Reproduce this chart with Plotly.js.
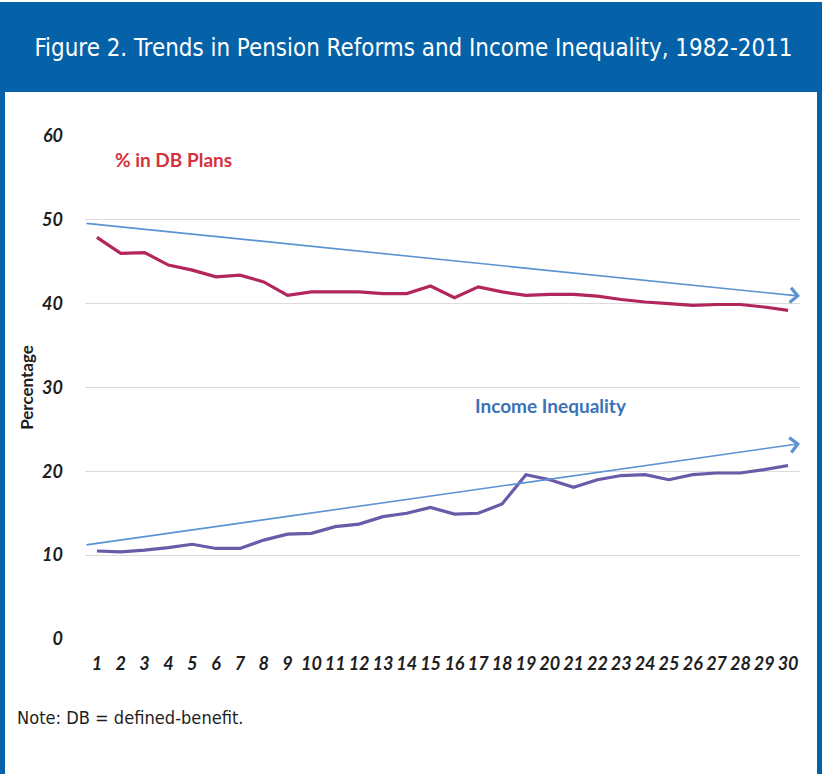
<!DOCTYPE html>
<html>
<head>
<meta charset="utf-8">
<script src="https://cdn.plot.ly/plotly-3.0.1.min.js"></script>
<style>
  html, body { margin: 0; padding: 0; background: #ffffff; }
  #frame { position: absolute; left: 0; top: 0; width: 822px; height: 774px; background: #ffffff; overflow: hidden; }
  #leftbar { position: absolute; left: 0; top: 2px; width: 5px; height: 772px; background: #0562a8; }
  #rightbar { position: absolute; left: 817px; top: 2px; width: 5px; height: 772px; background: #0562a8; }
  #header { position: absolute; left: 0; top: 2px; width: 822px; height: 90px; background: #0562a8; }
  #chart { position: absolute; left: 0; top: 0; width: 822px; height: 774px; }
  #chart .gtitle, #chart .annotation-text { font-stretch: condensed; }
</style>
</head>
<body>
<div id="frame">
  <div id="leftbar"></div>
  <div id="rightbar"></div>
  <div id="header"></div>
  <div id="chart"></div>
</div>
<script>
// ---- data ----
const periods = [1,2,3,4,5,6,7,8,9,10,11,12,13,14,15,16,17,18,19,20,21,22,23,24,25,26,27,28,29,30];
const dbPlans = [47.9,46.0,46.1,44.6,44.0,43.2,43.4,42.6,41.0,41.4,41.4,41.4,41.2,41.2,42.1,40.7,42.0,41.4,41.0,41.1,41.1,40.9,40.5,40.2,40.0,39.8,39.9,39.9,39.6,39.2];
const incomeInequality = [10.5,10.4,10.6,10.9,11.3,10.8,10.8,11.8,12.5,12.6,13.4,13.7,14.6,15.0,15.7,14.9,15.0,16.1,19.6,19.0,18.1,19.0,19.5,19.6,19.0,19.6,19.8,19.8,20.2,20.7];
const trendX = [0.5, 30.5];
const dbTrend = [49.6, 40.9];
const incomeTrend = [11.2, 23.3];
const yTicks = [0, 10, 20, 30, 40, 50, 60];

const titleText = 'Figure 2. Trends in Pension Reforms and Income Inequality, 1982-2011';
const noteText = 'Note: DB = defined-benefit.';

const tickFont = {family: 'Lato, "DejaVu Sans", sans-serif', size: 18, color: '#1e1e1e', weight: 700, style: 'italic'};
const condensedFamily = '"Liberation Sans Narrow", "DejaVu Sans Condensed", "DejaVu Sans", sans-serif';

const traces = [
  {x: periods, y: dbPlans, type: 'scatter', mode: 'lines', name: '% in DB Plans',
   line: {color: '#b2265c', width: 3.2}, hoverinfo: 'x+y'},
  {x: periods, y: incomeInequality, type: 'scatter', mode: 'lines', name: 'Income Inequality',
   line: {color: '#6b5aa8', width: 3.2}, hoverinfo: 'x+y'}
];

const trendArrow = (ys) => ({
  x: trendX[1], y: ys[1], ax: trendX[0], ay: ys[0],
  xref: 'x', yref: 'y', axref: 'x', ayref: 'y',
  showarrow: true, arrowhead: 4, arrowsize: 1.8, arrowwidth: 1.6,
  arrowcolor: '#5b93d3', text: ''
});

const layout = {
  width: 822, height: 774,
  paper_bgcolor: 'rgba(0,0,0,0)', plot_bgcolor: 'rgba(0,0,0,0)',
  margin: {l: 85, r: 22, t: 136, b: 135},
  showlegend: false,
  title: {
    text: titleText,
    font: {family: condensedFamily, size: 29, color: '#ffffff'},
    xref: 'container', yref: 'container', x: 0.503, y: 1 - 48 / 774, xanchor: 'center', yanchor: 'middle'
  },
  xaxis: {
    range: [0.5, 30.5], tickvals: periods, ticktext: periods.map(String),
    showgrid: false, zeroline: false, showline: false, ticks: '',
    tickfont: tickFont, ticklabelstandoff: 12, fixedrange: true
  },
  yaxis: {
    range: [0, 60], tickvals: yTicks, showgrid: true, gridcolor: '#dcdcdc', gridwidth: 1.2,
    zeroline: false, showline: false, ticks: '',
    tickfont: tickFont, ticklabelstandoff: 21, fixedrange: true,
    title: {text: 'Percentage', standoff: 4,
            font: {family: 'Lato, "DejaVu Sans", sans-serif', size: 17, color: '#1e1e1e', weight: 700}}
  },
  annotations: [
    trendArrow(dbTrend),
    trendArrow(incomeTrend),
    {text: '% in DB Plans', x: 0, y: 1, xref: 'paper', yref: 'paper', xshift: 28, yshift: -23,
     xanchor: 'left', yanchor: 'middle', showarrow: false,
     font: {family: 'Lato, "DejaVu Sans", sans-serif', size: 19, color: '#d6323c', weight: 700}},
    {text: 'Income Inequality', x: 0, y: 1, xref: 'paper', yref: 'paper', xshift: 388, yshift: -269,
     xanchor: 'left', yanchor: 'middle', showarrow: false,
     font: {family: 'Lato, "DejaVu Sans", sans-serif', size: 19, color: '#3b72b6', weight: 700}},
    {text: noteText, x: 0, y: 0, xref: 'paper', yref: 'paper', xshift: -70, yshift: -78,
     xanchor: 'left', yanchor: 'middle', showarrow: false,
     font: {family: condensedFamily, size: 19, color: '#1e1e1e'}}
  ]
};

// size the condensed texts so their natural widths match the reference (no glyph stretching)
Plotly.newPlot('chart', traces, layout, {displayModeBar: false}).then(function (gd) {
  const upd = {};
  const t = gd.querySelector('.gtitle');
  if (t) {
    const w = t.getComputedTextLength();
    if (w > 0) upd['title.font.size'] = Math.floor(29 * 760 / w * 10) / 10;
  }
  const notes = Array.from(gd.querySelectorAll('.annotation-text')).filter(function (el) { return el.textContent === noteText; });
  if (notes.length) {
    const w2 = notes[0].getComputedTextLength();
    if (w2 > 0) upd['annotations[4].font.size'] = Math.floor(19 * 227 / w2 * 10) / 10;
  }
  return Plotly.relayout(gd, upd);
});
</script>
</body>
</html>
